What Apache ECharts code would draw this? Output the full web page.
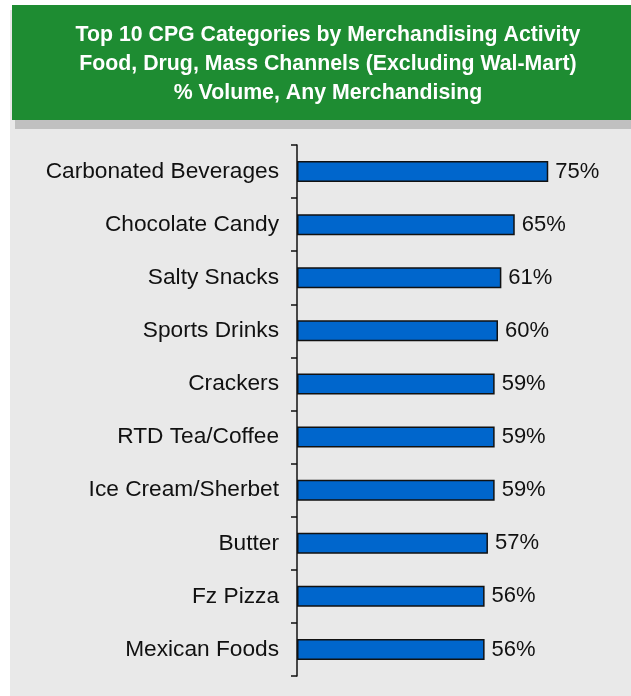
<!DOCTYPE html>
<html>
<head>
<meta charset="utf-8">
<script src="https://cdn.jsdelivr.net/npm/echarts@6/dist/echarts.min.js"></script>
<style>
  html, body { margin: 0; padding: 0; background: #ffffff; }
  #chart { width: 631px; height: 696px; }
</style>
</head>
<body>
<div id="chart"></div>
<script>
// Top 10 CPG categories, % of volume sold with any merchandising
const categories = [
  'Carbonated Beverages', 'Chocolate Candy', 'Salty Snacks', 'Sports Drinks',
  'Crackers', 'RTD Tea/Coffee', 'Ice Cream/Sherbet', 'Butter', 'Fz Pizza', 'Mexican Foods'
];
const volumePct = [75, 65, 61, 60, 59, 59, 59, 57, 56, 56];
const titleLines = [
  'Top 10 CPG Categories by Merchandising Activity',
  'Food, Drug, Mass Channels (Excluding Wal-Mart)',
  '% Volume, Any Merchandising'
];

const FONT = '"Liberation Sans", Arial, Helvetica, sans-serif';
const chart = echarts.init(document.getElementById('chart'), null, { renderer: 'canvas' });

chart.setOption({
  backgroundColor: '#ffffff',
  animation: false,
  graphic: [
    // light grey panel behind the chart
    { type: 'rect', z: -10, shape: { x: 10, y: 10, width: 640, height: 700 }, style: { fill: '#e9e9e9' } },
    // drop shadow under the header bar
    { type: 'rect', z: -9, shape: { x: 15, y: 119, width: 640, height: 10 }, style: { fill: '#c0c0c0' } },
    // green header bar
    { type: 'rect', z: -8, shape: { x: 12, y: 5, width: 640, height: 115 }, style: { fill: '#1e8c32' } }
  ],
  title: {
    text: titleLines.join('\n'),
    left: 328,
    top: 21,
    padding: 0,
    textAlign: 'center',
    textStyle: {
      color: '#ffffff',
      fontFamily: FONT,
      fontWeight: 'bold',
      fontSize: 21.3,
      lineHeight: 29
    }
  },
  grid: { left: 297, top: 145, height: 531, right: 66, containLabel: false },
  xAxis: {
    type: 'value',
    min: 0,
    max: 80,
    show: false
  },
  yAxis: {
    type: 'category',
    data: categories,
    inverse: true,
    axisLine: { show: true, lineStyle: { color: '#111111', width: 1.5 } },
    axisTick: { show: true, length: 6, lineStyle: { color: '#111111', width: 1.5 } },
    axisLabel: {
      color: '#111111',
      fontFamily: FONT,
      fontSize: 22.7,
      margin: 18
    },
    splitLine: { show: false }
  },
  series: [{
    type: 'bar',
    data: volumePct,
    barWidth: 21,
    itemStyle: {
      color: '#0066cc',
      borderColor: '#111111',
      borderWidth: 1.5
    },
    label: {
      show: true,
      position: 'right',
      distance: 7,
      formatter: p => p.value + '%',
      color: '#111111',
      fontFamily: FONT,
      fontSize: 22
    }
  }]
});
</script>
</body>
</html>
